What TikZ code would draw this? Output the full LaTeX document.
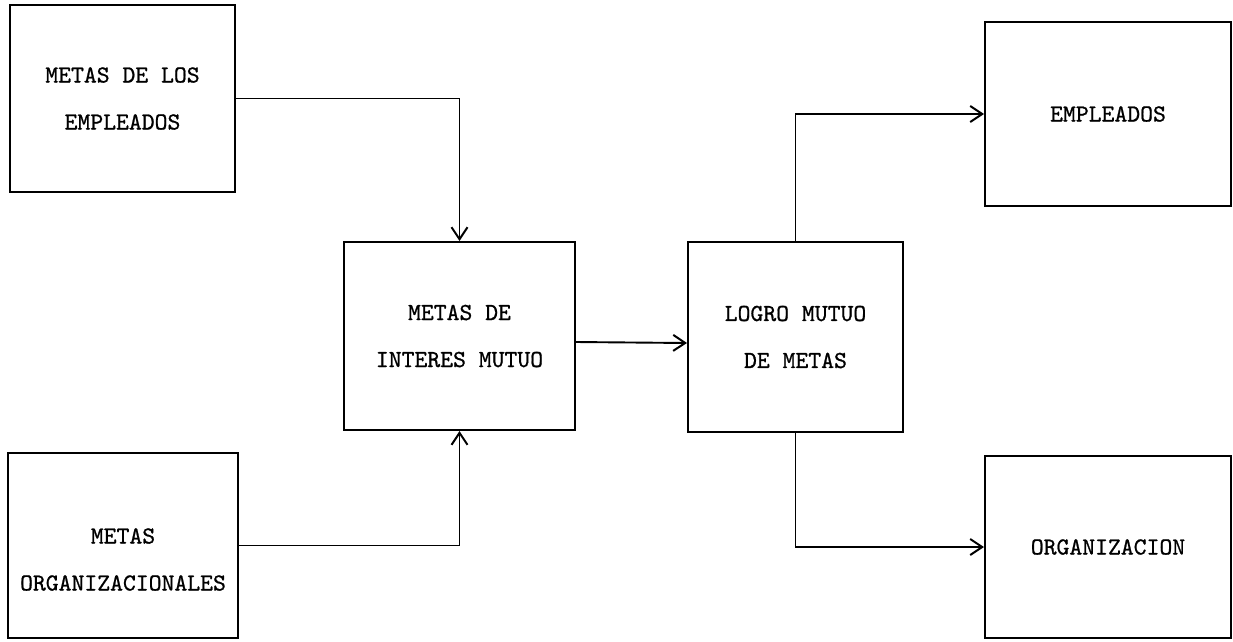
\documentclass[tikz,border=0pt]{standalone}
\usepackage{fontspec}
\setmonofont[FakeBold=0.8]{lmmono10-regular.otf}
\usetikzlibrary{arrows.meta}
\begin{document}
\begin{tikzpicture}[x=1pt,y=-1pt,
  boxtext/.style={align=center,font={\ttfamily\fontsize{24.5}{47}\selectfont}},
  box/.style={draw,line width=2pt,rectangle,inner sep=0pt,boxtext},
  conn/.style={line width=1.9pt,-{Straight Barb[length=12pt,width=16pt,line width=2pt]}}]
\useasboundingbox (0,0) rectangle (1233,641);
\node[box,minimum width=225pt,minimum height=187pt] (A) at (122.5,98.5) {METAS DE LOS\\EMPLEADOS};
\node[box,minimum width=230pt,minimum height=185pt,
  label={[boxtext,yshift=-14pt]center:METAS\\ORGANIZACIONALES}] (B) at (123,545.5) {};
\node[box,minimum width=231pt,minimum height=188pt] (C) at (459.5,336) {METAS DE\\INTERES MUTUO};
\node[box,minimum width=215pt,minimum height=190pt] (D) at (795.5,337) {LOGRO MUTUO\\DE METAS};
\node[box,minimum width=246pt,minimum height=184pt] (E) at (1108,114) {EMPLEADOS};
\node[box,minimum width=246pt,minimum height=182pt] (O) at (1108,547) {ORGANIZACION};
\draw[conn] (A.east) -| (C.north);
\draw[conn] (B.east) -| (C.south);
\draw[conn] ([yshift=-6pt]C.east) -- ([yshift=-6pt]D.west);
\draw[conn] (D.north) |- (E.west);
\draw[conn] (D.south) |- (O.west);
\end{tikzpicture}
\end{document}
